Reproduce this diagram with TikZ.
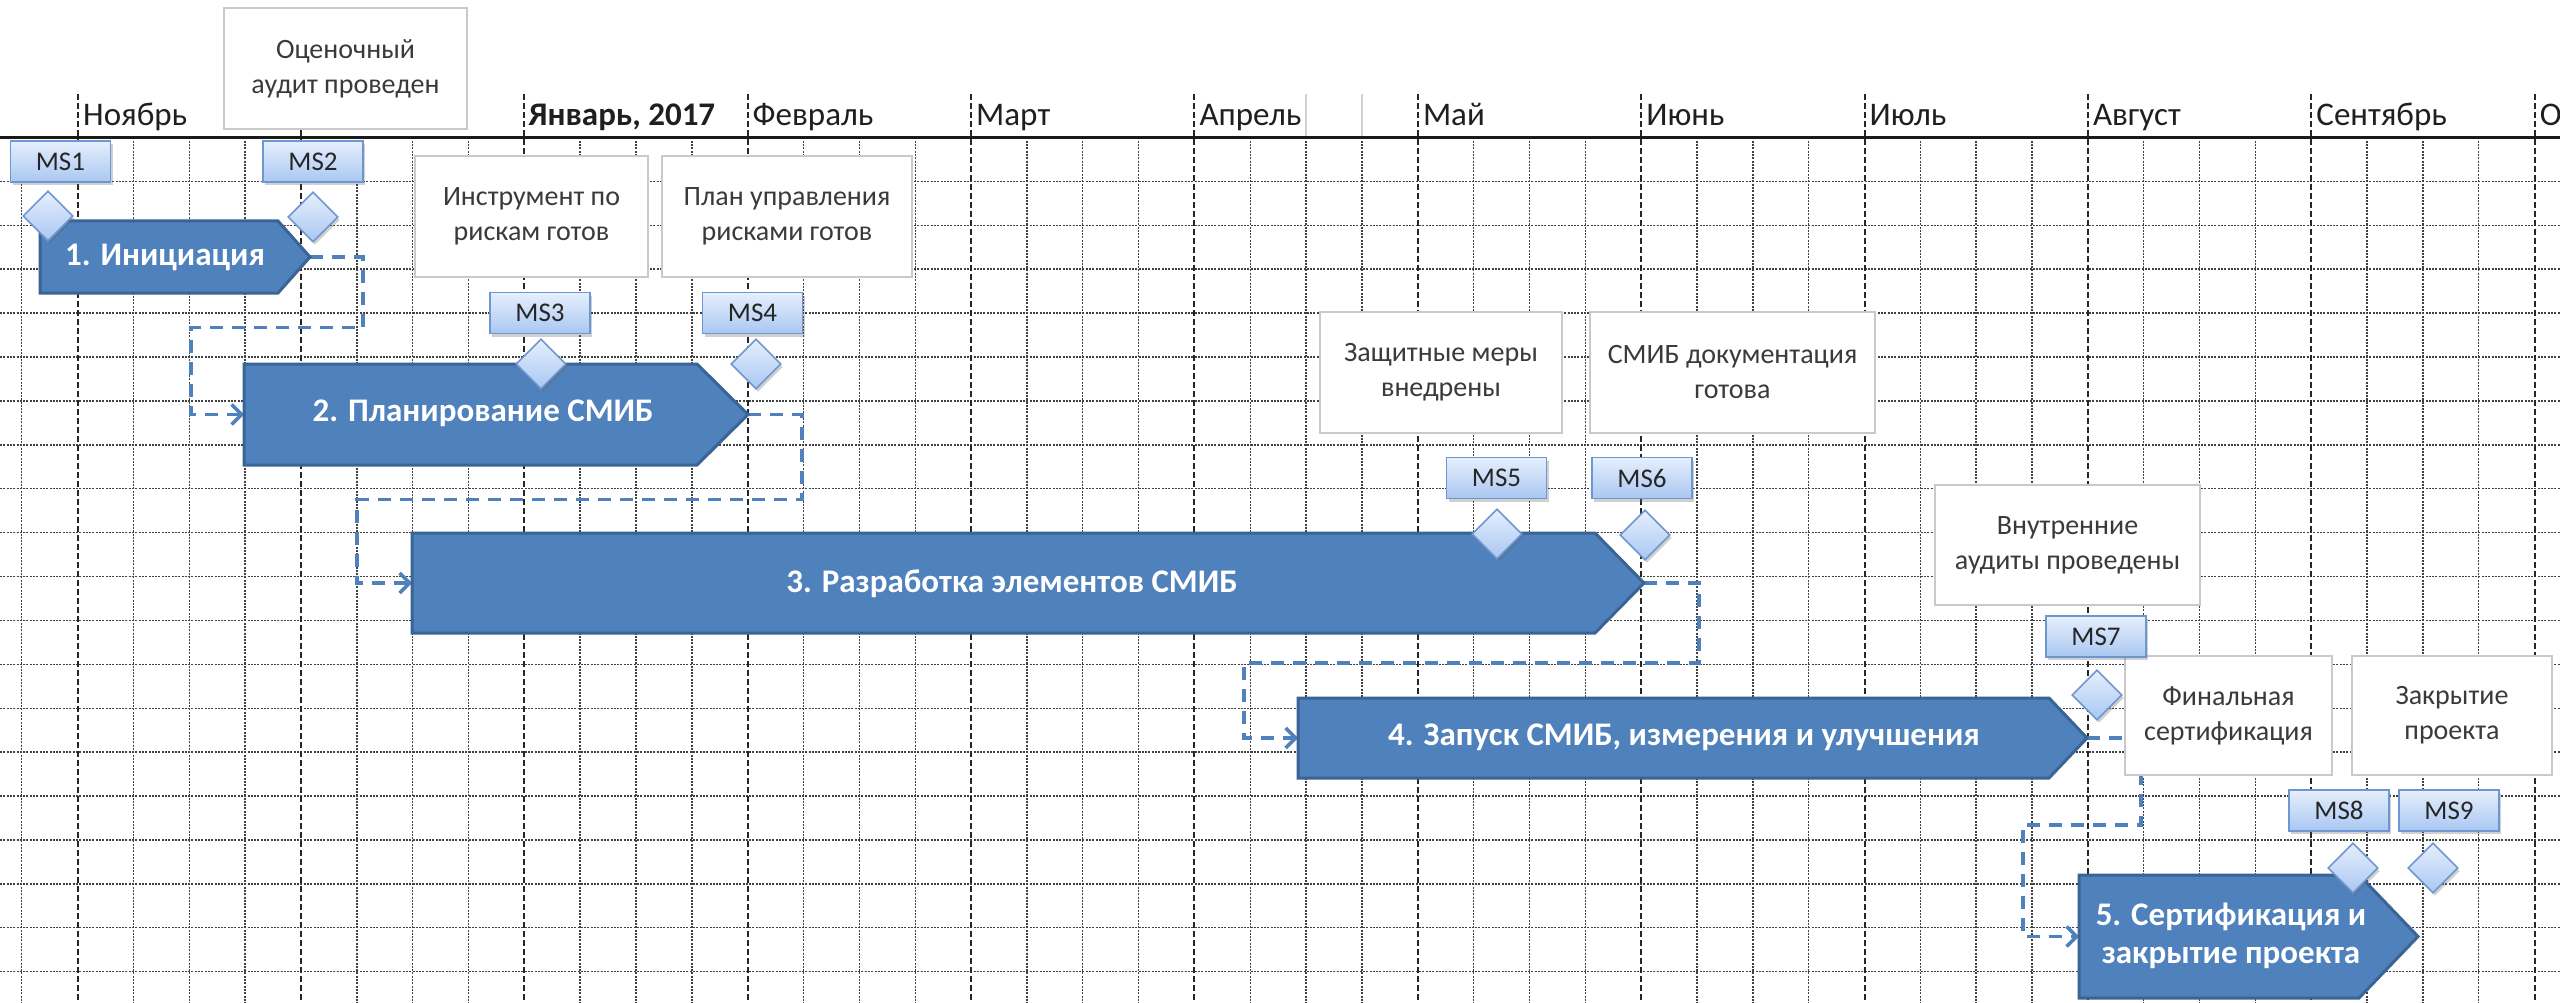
\documentclass[tikz,border=0pt]{standalone}
\usepackage{fontspec}
\setmainfont{Carlito}
\usetikzlibrary{arrows.meta,shapes.geometric,shadows}
\definecolor{barfill}{HTML}{4F81BD}
\definecolor{barline}{HTML}{3A6494}
\definecolor{msline}{HTML}{6F97CF}
\definecolor{mstop}{HTML}{E6EFFC}
\definecolor{msbot}{HTML}{A9C7F2}
\definecolor{connblue}{HTML}{4F81BD}
\definecolor{calline}{HTML}{C9C9C9}
\definecolor{caltext}{HTML}{3A3A3A}
\begin{document}
\begin{tikzpicture}[x=1pt,y=-1pt,
  gridline/.style={black!75, line width=1.4pt, dash pattern=on 2pt off 1.3pt},
  monthline/.style={black!85, line width=2pt, dash pattern=on 6pt off 3pt},
  headgray/.style={black!18, line width=1.5pt},
  axisline/.style={black!90, line width=3.5pt},
  monthlabel/.style={anchor=base west, inner sep=0, text=black!88, font=\fontsize{33}{38}\selectfont},
  callout/.style={draw=calline, line width=2pt, fill=white, align=center, text=caltext, inner sep=0, font=\fontsize{28}{35}\selectfont},
  msbox/.style={draw=msline, line width=1.6pt, top color=mstop, bottom color=msbot, minimum width=100pt, minimum height=41pt, inner sep=0, text=black!85, font=\fontsize{27}{30}\selectfont, drop shadow={shadow xshift=2pt, shadow yshift=-3pt, opacity=0.3, fill=black!60}},
  msdiamond/.style={diamond, aspect=1, draw=msline, line width=1.6pt, top color=mstop, bottom color=msbot, minimum width=50pt, minimum height=50pt, inner sep=0, drop shadow={shadow xshift=2pt, shadow yshift=-3pt, opacity=0.3, fill=black!60}},
  bar/.style={fill=barfill, draw=barline, line width=3pt, line join=miter},
  bartext/.style={text=white, font=\bfseries\fontsize{33}{38}\selectfont, align=center, inner sep=0},
  conn/.style={connblue, line width=3.5pt, dash pattern=on 13pt off 9pt, -{Straight Barb[length=10pt,width=20pt]}}
]
\useasboundingbox (0,0) rectangle (2560,1003);
\clip (0,0) rectangle (2560,1003);
\fill[white] (0,0) rectangle (2560,1003);

% grid
\foreach \j in {1,...,19}{
  \pgfmathsetmacro\yy{137.5+43.9*\j}
  \draw[gridline] (0,\yy) -- (2560,\yy);
}
\foreach \k in {-1,...,44}{
  \pgfmathsetmacro\xx{77.6+55.84*\k}
  \pgfmathtruncatemacro\m{mod(\k+4,4)}
  \ifnum\m=0
    \draw[monthline] (\xx,94) -- (\xx,1003);
  \else
    \draw[gridline] (\xx,137.5) -- (\xx,1003);
  \fi
}
\draw[headgray] (1306.1,94) -- (1306.1,136);
\draw[headgray] (1362.0,94) -- (1362.0,136);
\draw[axisline] (0,137.5) -- (2560,137.5);

% month labels
\node[monthlabel] (m1) at (83.0,126) {Ноябрь};
\node[monthlabel, font=\bfseries\fontsize{33}{38}\selectfont] (m3) at (528.5,126) {Январь, 2017};
\node[monthlabel] (m4) at (752.5,126) {Февраль};
\node[monthlabel] (m5) at (976.0,126) {Март};
\node[monthlabel] (m6) at (1199.4,126) {Апрель};
\node[monthlabel] (m7) at (1422.8,126) {Май};
\node[monthlabel] (m8) at (1646.1,126) {Июнь};
\node[monthlabel] (m9) at (1869.5,126) {Июль};
\node[monthlabel] (m10) at (2092.8,126) {Август};
\node[monthlabel] (m11) at (2316.2,126) {Сентябрь};
\node[monthlabel] (m12) at (2539.6,126) {Октябрь};

% coordinates of bars
\coordinate (b1in) at (40,257);    \coordinate (b1tip) at (310,257);
\coordinate (b2in) at (244,414.5); \coordinate (b2tip) at (748,414.5);
\coordinate (b3in) at (412,583);   \coordinate (b3tip) at (1644,583);
\coordinate (b4in) at (1298,738);  \coordinate (b4tip) at (2087,738);
\coordinate (b5in) at (2079,936.5);\coordinate (b5tip) at (2418,936.5);
\coordinate (c1a) at (363,327.5);  \coordinate (c1b) at (191,327.5);
\coordinate (c2a) at (802,499.5);  \coordinate (c2b) at (357,499.5);
\coordinate (c3a) at (1699,663);   \coordinate (c3b) at (1244,663);
\coordinate (c4a) at (2141,825);   \coordinate (c4b) at (2023,825);

% connectors
\draw[conn] (b1tip) -| (c1a) -- (c1b) |- (b2in);
\draw[conn] (b2tip) -| (c2a) -- (c2b) |- (b3in);
\draw[conn] (b3tip) -| (c3a) -- (c3b) |- (b4in);
\draw[conn] (b4tip) -| (c4a) -- (c4b) |- (b5in);

% bars
\path[bar] (40,221) -- (278,221) -- (b1tip) -- (278,293) -- (40,293) -- cycle;
\path[bar] (244,364) -- (697,364) -- (b2tip) -- (697,465) -- (244,465) -- cycle;
\path[bar] (412,533) -- (1595,533) -- (b3tip) -- (1595,633) -- (412,633) -- cycle;
\path[bar] (1298,698) -- (2049,698) -- (b4tip) -- (2049,778) -- (1298,778) -- cycle;
\path[bar] (2079,875) -- (2359,875) -- (b5tip) -- (2359,998) -- (2079,998) -- cycle;
\node[bartext] (t1) at (165,257) {1. Инициация};
\node[bartext] (t2) at (483,413) {2. Планирование СМИБ};
\node[bartext] (t3) at (1012,584) {3. Разработка элементов СМИБ};
\node[bartext] (t4) at (1684,737) {4. Запуск СМИБ, измерения и улучшения};
\node[bartext] (t5) at (2231,936) {5. Сертификация и\\закрытие проекта};

% callouts
\node[callout, minimum width=243pt, minimum height=121pt] (k1) at (345.5,68.5) {Оценочный\\аудит проведен};
\node[callout, minimum width=233pt, minimum height=121pt] (k2) at (531.5,216.5) {Инструмент по\\рискам готов};
\node[callout, minimum width=250pt, minimum height=121pt] (k3) at (787,216.5) {План управления\\рисками готов};
\node[callout, minimum width=242pt, minimum height=121pt] (k4) at (1441,372.5) {Защитные меры\\внедрены};
\node[callout, minimum width=285pt, minimum height=121pt] (k5) at (1732.5,372.5) {СМИБ документация\\готова};
\node[callout, minimum width=265pt, minimum height=120pt] (k6) at (2067.5,545) {Внутренние\\аудиты проведены};
\node[callout, minimum width=207pt, minimum height=119pt] (k7) at (2228.5,715.5) {Финальная\\сертификация};
\node[callout, minimum width=200pt, minimum height=119pt] (k8) at (2452,715.5) {Закрытие\\проекта};

% diamonds
\node[msdiamond] (d1) at (48,216) {};
\node[msdiamond] (d2) at (313,217) {};
\node[msdiamond] (d3) at (541,364) {};
\node[msdiamond] (d4) at (756,364) {};
\node[msdiamond] (d5) at (1497,534) {};
\node[msdiamond] (d6) at (1645,535) {};
\node[msdiamond] (d7) at (2097,695) {};
\node[msdiamond] (d8) at (2353,868) {};
\node[msdiamond] (d9) at (2433,868) {};

% milestone boxes
\node[msbox] (ms1) at (60.5,161.5) {\raisebox{-5pt}{MS1}};
\node[msbox] (ms2) at (313,161.5) {\raisebox{-5pt}{MS2}};
\node[msbox] (ms3) at (540,313) {\raisebox{-5pt}{MS3}};
\node[msbox] (ms4) at (752.5,313) {\raisebox{-5pt}{MS4}};
\node[msbox] (ms5) at (1496.5,478) {\raisebox{-5pt}{MS5}};
\node[msbox] (ms6) at (1642,478) {\raisebox{-5pt}{MS6}};
\node[msbox] (ms7) at (2096,636.5) {\raisebox{-5pt}{MS7}};
\node[msbox] (ms8) at (2339,810.5) {\raisebox{-5pt}{MS8}};
\node[msbox] (ms9) at (2449,810.5) {\raisebox{-5pt}{MS9}};
\end{tikzpicture}
\end{document}
